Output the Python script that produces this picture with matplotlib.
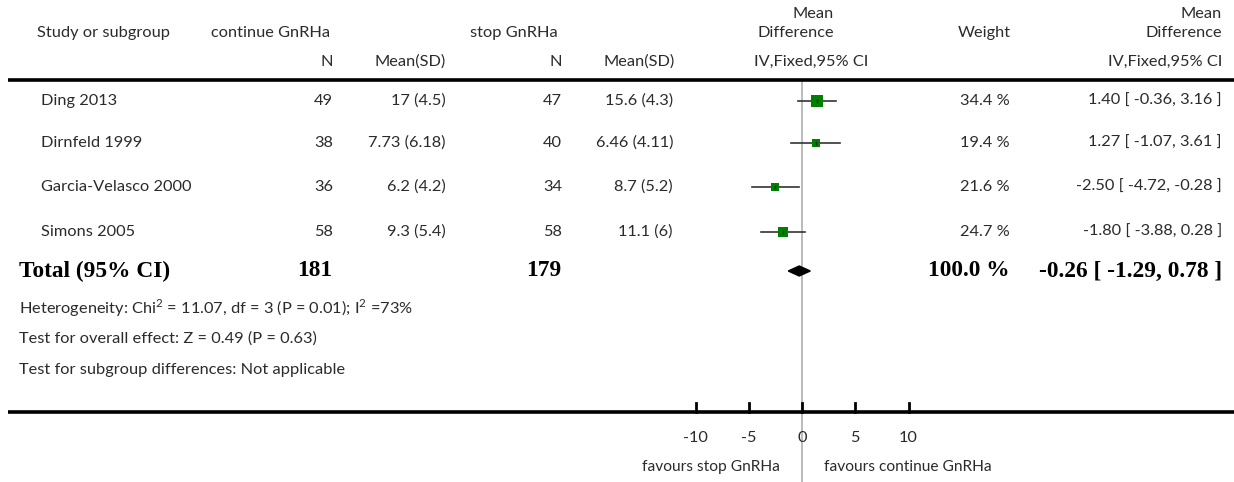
import matplotlib
matplotlib.use("Agg")
import matplotlib.pyplot as plt
from matplotlib.patches import Polygon
from matplotlib.transforms import blended_transform_factory

plt.rcParams["mathtext.fontset"] = "custom"
plt.rcParams["mathtext.rm"] = "Lato"

# data
studies = ["Ding 2013", "Dirnfeld 1999", "Garcia-Velasco 2000", "Simons 2005"]
n_cont = [49, 38, 36, 58]
msd_cont = ["17 (4.5)", "7.73 (6.18)", "6.2 (4.2)", "9.3 (5.4)"]
n_stop = [47, 40, 34, 58]
msd_stop = ["15.6 (4.3)", "6.46 (4.11)", "8.7 (5.2)", "11.1 (6)"]
md = [1.40, 1.27, -2.50, -1.80]
lo = [-0.36, -1.07, -4.72, -3.88]
hi = [3.16, 3.61, -0.28, 0.28]
weight = [34.4, 19.4, 21.6, 24.7]
tot_n_cont, tot_n_stop = 181, 179
tot_md, tot_lo, tot_hi = -0.26, -1.29, 0.78
xticks = [-10, -5, 0, 5, 10]

W, H = 1234, 482
fig = plt.figure(figsize=(W / 100, H / 100), dpi=100)
ax = fig.add_axes([0, 0, 1, 1])
ax.axis("off")
ppu = 10.65  # pixels per unit
x0 = 802
ax.set_xlim(-x0 / ppu, (W - x0) / ppu)
ax.set_ylim(H, 0)
tr = blended_transform_factory(fig.transFigure, ax.transData)

sans = "Lato"
col = "#2b2b2b"
fs = 11.8

def t(x, y, s, ha="left", **kw):
    kw.setdefault("fontsize", fs)
    kw.setdefault("family", sans)
    kw.setdefault("color", col)
    ax.text(x / W, y, s, ha=ha, va="center", transform=tr, **kw)

# header
t(37, 33, "Study or subgroup")
t(211, 33, "continue GnRHa")
t(470, 33, "stop GnRHa")
t(333, 62, "N", ha="right")
t(446, 62, "Mean(SD)", ha="right")
t(562, 62, "N", ha="right")
t(675, 62, "Mean(SD)", ha="right")
t(834, 14, "Mean", ha="right")
t(834, 33, "Difference", ha="right")
t(811, 62, "IV,Fixed,95% CI", ha="center")
t(1011, 33, "Weight", ha="right")
t(1222, 14, "Mean", ha="right")
t(1222, 33, "Difference", ha="right")
t(1222, 62, "IV,Fixed,95% CI", ha="right")

ax.plot([8 / W, 1], [80, 80], color="black", lw=2.6, transform=tr, solid_capstyle="butt")
ax.plot([8 / W, 1], [412, 412], color="black", lw=2.6, transform=tr, solid_capstyle="butt")

# zero line
ax.plot([0, 0], [80, H], color="#b5b5b5", lw=1.3, zorder=1)

rows_y = [101, 143, 187, 232]
for i, y in enumerate(rows_y):
    t(41, y, studies[i])
    t(333, y, str(n_cont[i]), ha="right")
    t(446, y, msd_cont[i], ha="right")
    t(562, y, str(n_stop[i]), ha="right")
    t(673, y, msd_stop[i], ha="right")
    t(1010, y, f"{weight[i]:.1f} %", ha="right")
    t(1222, y, f"{md[i]:.2f} [ {lo[i]:.2f}, {hi[i]:.2f} ]", ha="right")
    ax.plot([lo[i], hi[i]], [y, y], color="#333333", lw=1.2, zorder=2)
    ax.plot(md[i], y, "s", color="#008000", ms=1.38 * weight[i] ** 0.5, mew=0, zorder=3)
    ax.plot(md[i], y, "|", color="#222222", ms=3.5, mew=1, zorder=4)

# total
ty = 271
serif = "Liberation Serif"
bold = dict(family=serif, fontsize=16.8, weight="bold", color="black")
t(19, ty, "Total (95% CI)", **bold)
t(332, ty, str(tot_n_cont), ha="right", **bold)
t(561, ty, str(tot_n_stop), ha="right", **bold)
t(1010, ty, "100.0 %", ha="right", **bold)
t(1222, ty, f"{tot_md:.2f} [ {tot_lo:.2f}, {tot_hi:.2f} ]", ha="right", **bold)
ax.add_patch(Polygon([(tot_lo, ty), (tot_md, ty - 5), (tot_hi, ty), (tot_md, ty + 5)],
                     closed=True, color="black", zorder=3))

t(19, 308, r"Heterogeneity: Chi$^{\mathregular{2}}$ = 11.07, df = 3 (P = 0.01); I$^{\mathregular{2}}$ =73%")
t(19, 339, "Test for overall effect: Z = 0.49 (P = 0.63)")
t(19, 370, "Test for subgroup differences: Not applicable")

# axis ticks
for v in xticks:
    ax.plot([v, v], [403, 412], color="black", lw=2)
    ax.text(v, 438, f"{v}", ha="center", va="center",
            fontsize=fs, family=sans, color=col)
t(711, 467, "favours stop GnRHa", ha="center", fontsize=11.2)
t(908, 467, "favours continue GnRHa", ha="center", fontsize=11.2)

fig.savefig("out.png", dpi=100)
